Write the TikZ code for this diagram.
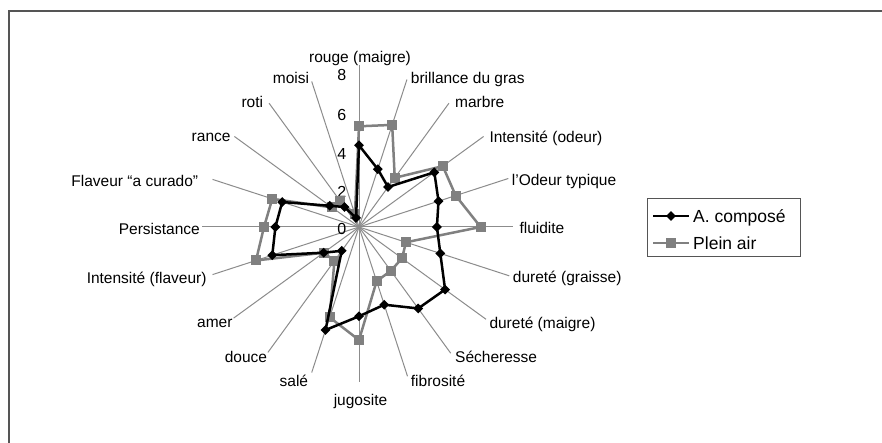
\documentclass[tikz,border=0pt]{standalone}
\usepackage{fontspec}
\setmainfont{Liberation Sans}
\usetikzlibrary{shapes.geometric}
\definecolor{serA}{RGB}{0,0,0}
\definecolor{serB}{RGB}{128,128,128}
\definecolor{axisgray}{RGB}{140,140,140}
\definecolor{framegray}{RGB}{85,85,85}
\tikzset{
  axisline/.style={axisgray, line width=1pt},
  lbl/.style={inner sep=0pt, text height=11pt, text depth=0pt, font=\fontsize{15.5}{18}\selectfont},
  ticklbl/.style={inner sep=0pt, anchor=east, text height=11.5pt, text depth=0pt, font=\fontsize{16}{18}\selectfont},
  seriesA/.style={serA, line width=2.5pt, line join=round},
  seriesB/.style={serB, line width=2.5pt, line join=round},
  diamark/.style={diamond, fill=serA, inner sep=0pt, minimum width=10pt, minimum height=10pt},
  sqmark/.style={rectangle, fill=serB, inner sep=0pt, minimum size=10pt},
  legtext/.style={inner sep=0pt, anchor=west, text height=12.5pt, text depth=0pt, font=\fontsize{17.5}{20}\selectfont}
}
\begin{document}
\begin{tikzpicture}[x=1pt,y=-1pt]
\useasboundingbox (0,0) rectangle (882,443);
\fill[white] (0,0) rectangle (882,443);
\draw[framegray, line width=1.5pt] (9,11) rectangle (900,460);

\begin{scope}[shift={(359,227)}]
  \coordinate (C) at (0,0);
  % axes
  \foreach \len [count=\i from 0] in {162,155,153,154,157,154,158,157,156,157,155,153,155,155,154,157,154,154,153,153}
    \draw[axisline] (C) -- (\i*18-90:\len) coordinate (e\i);
  % series B (Plein air)
  \foreach \v [count=\i from 0] in {5.3,5.65,3.2,5.45,5.35,6.4,2.6,2.8,2.85,3.0,5.95,5.0,2.2,2.3,5.7,5.0,4.8,1.75,1.7,0.7}
    \coordinate (b\i) at (\i*18-90:19*\v);
  % series A (A. composé)
  \foreach \v [count=\i from 0] in {4.3,3.2,2.6,4.9,4.4,4.1,4.5,5.6,5.3,4.3,4.7,5.7,1.55,2.3,4.8,4.4,4.25,1.9,1.3,0.5}
    \coordinate (a\i) at (\i*18-90:19*\v);
\end{scope}

% tick labels
\node[ticklbl] (t0) at (346.5,228.3) {0};
\node[ticklbl] (t2) at (346.5,191.7) {2};
\node[ticklbl] (t4) at (346.5,153.3) {4};
\node[ticklbl] (t6) at (346.5,115) {6};
\node[ticklbl] (t8) at (346.5,75) {8};

% series lines
\draw[seriesB] (b0) -- (b1) -- (b2) -- (b3) -- (b4) -- (b5) -- (b6) -- (b7) -- (b8) -- (b9) -- (b10) -- (b11) -- (b12) -- (b13) -- (b14) -- (b15) -- (b16) -- (b17) -- (b18) -- (b19) -- cycle;
\foreach \i in {0,...,19} \node[sqmark] (mb\i) at (b\i) {};
\draw[seriesA] (a0) -- (a1) -- (a2) -- (a3) -- (a4) -- (a5) -- (a6) -- (a7) -- (a8) -- (a9) -- (a10) -- (a11) -- (a12) -- (a13) -- (a14) -- (a15) -- (a16) -- (a17) -- (a18) -- (a19) -- cycle;
\foreach \i in {0,...,19} \node[diamark] (ma\i) at (a\i) {};

% category labels
\node[lbl, anchor=center] (l0) at (360,57) {rouge (maigre)};
\node[lbl, anchor=west] (l1) at (410.7,78) {brillance du gras};
\node[lbl, anchor=west] (l2) at (455,101.7) {marbre};
\node[lbl, anchor=west] (l3) at (489.3,136.7) {Intensité (odeur)};
\node[lbl, anchor=west] (l4) at (511.7,180) {l'Odeur typique};
\node[lbl, anchor=west] (l5) at (519.3,228.3) {fluidite};
\node[lbl, anchor=west] (l6) at (512.7,277) {dureté (graisse)};
\node[lbl, anchor=west] (l7) at (489.3,322.7) {dureté (maigre)};
\node[lbl, anchor=west] (l8) at (455,356.7) {Sécheresse};
\node[lbl, anchor=west] (l9) at (410.7,380.7) {fibrosité};
\node[lbl, anchor=center] (l10) at (360.5,400) {jugosite};
\node[lbl, anchor=east] (l11) at (308.3,381) {salé};
\node[lbl, anchor=east] (l12) at (267.3,356.7) {douce};
\node[lbl, anchor=east] (l13) at (232.7,321.7) {amer};
\node[lbl, anchor=east] (l14) at (206.7,278.3) {Intensité (flaveur)};
\node[lbl, anchor=east] (l15) at (200,229) {Persistance};
\node[lbl, anchor=east] (l16) at (198.3,180.7) {Flaveur “a curado”};
\node[lbl, anchor=east] (l17) at (230.7,136) {rance};
\node[lbl, anchor=east] (l18) at (263.3,102.3) {roti};
\node[lbl, anchor=east] (l19) at (309.3,78.3) {moisi};

% legend
\draw[framegray, line width=1pt] (647,199) rectangle (800,257);
\coordinate (la1) at (653,216);
\coordinate (la2) at (689,216);
\coordinate (lb1) at (653,243);
\coordinate (lb2) at (689,243);
\draw[seriesA] (la1) -- (la2);
\node[diamark] (lam) at (671,216) {};
\draw[seriesB] (lb1) -- (lb2);
\node[sqmark] (lbm) at (671,243) {};
\node[legtext] (lta) at (693,216) {A. composé};
\node[legtext] (ltb) at (693,243) {Plein air};
\end{tikzpicture}
\end{document}
